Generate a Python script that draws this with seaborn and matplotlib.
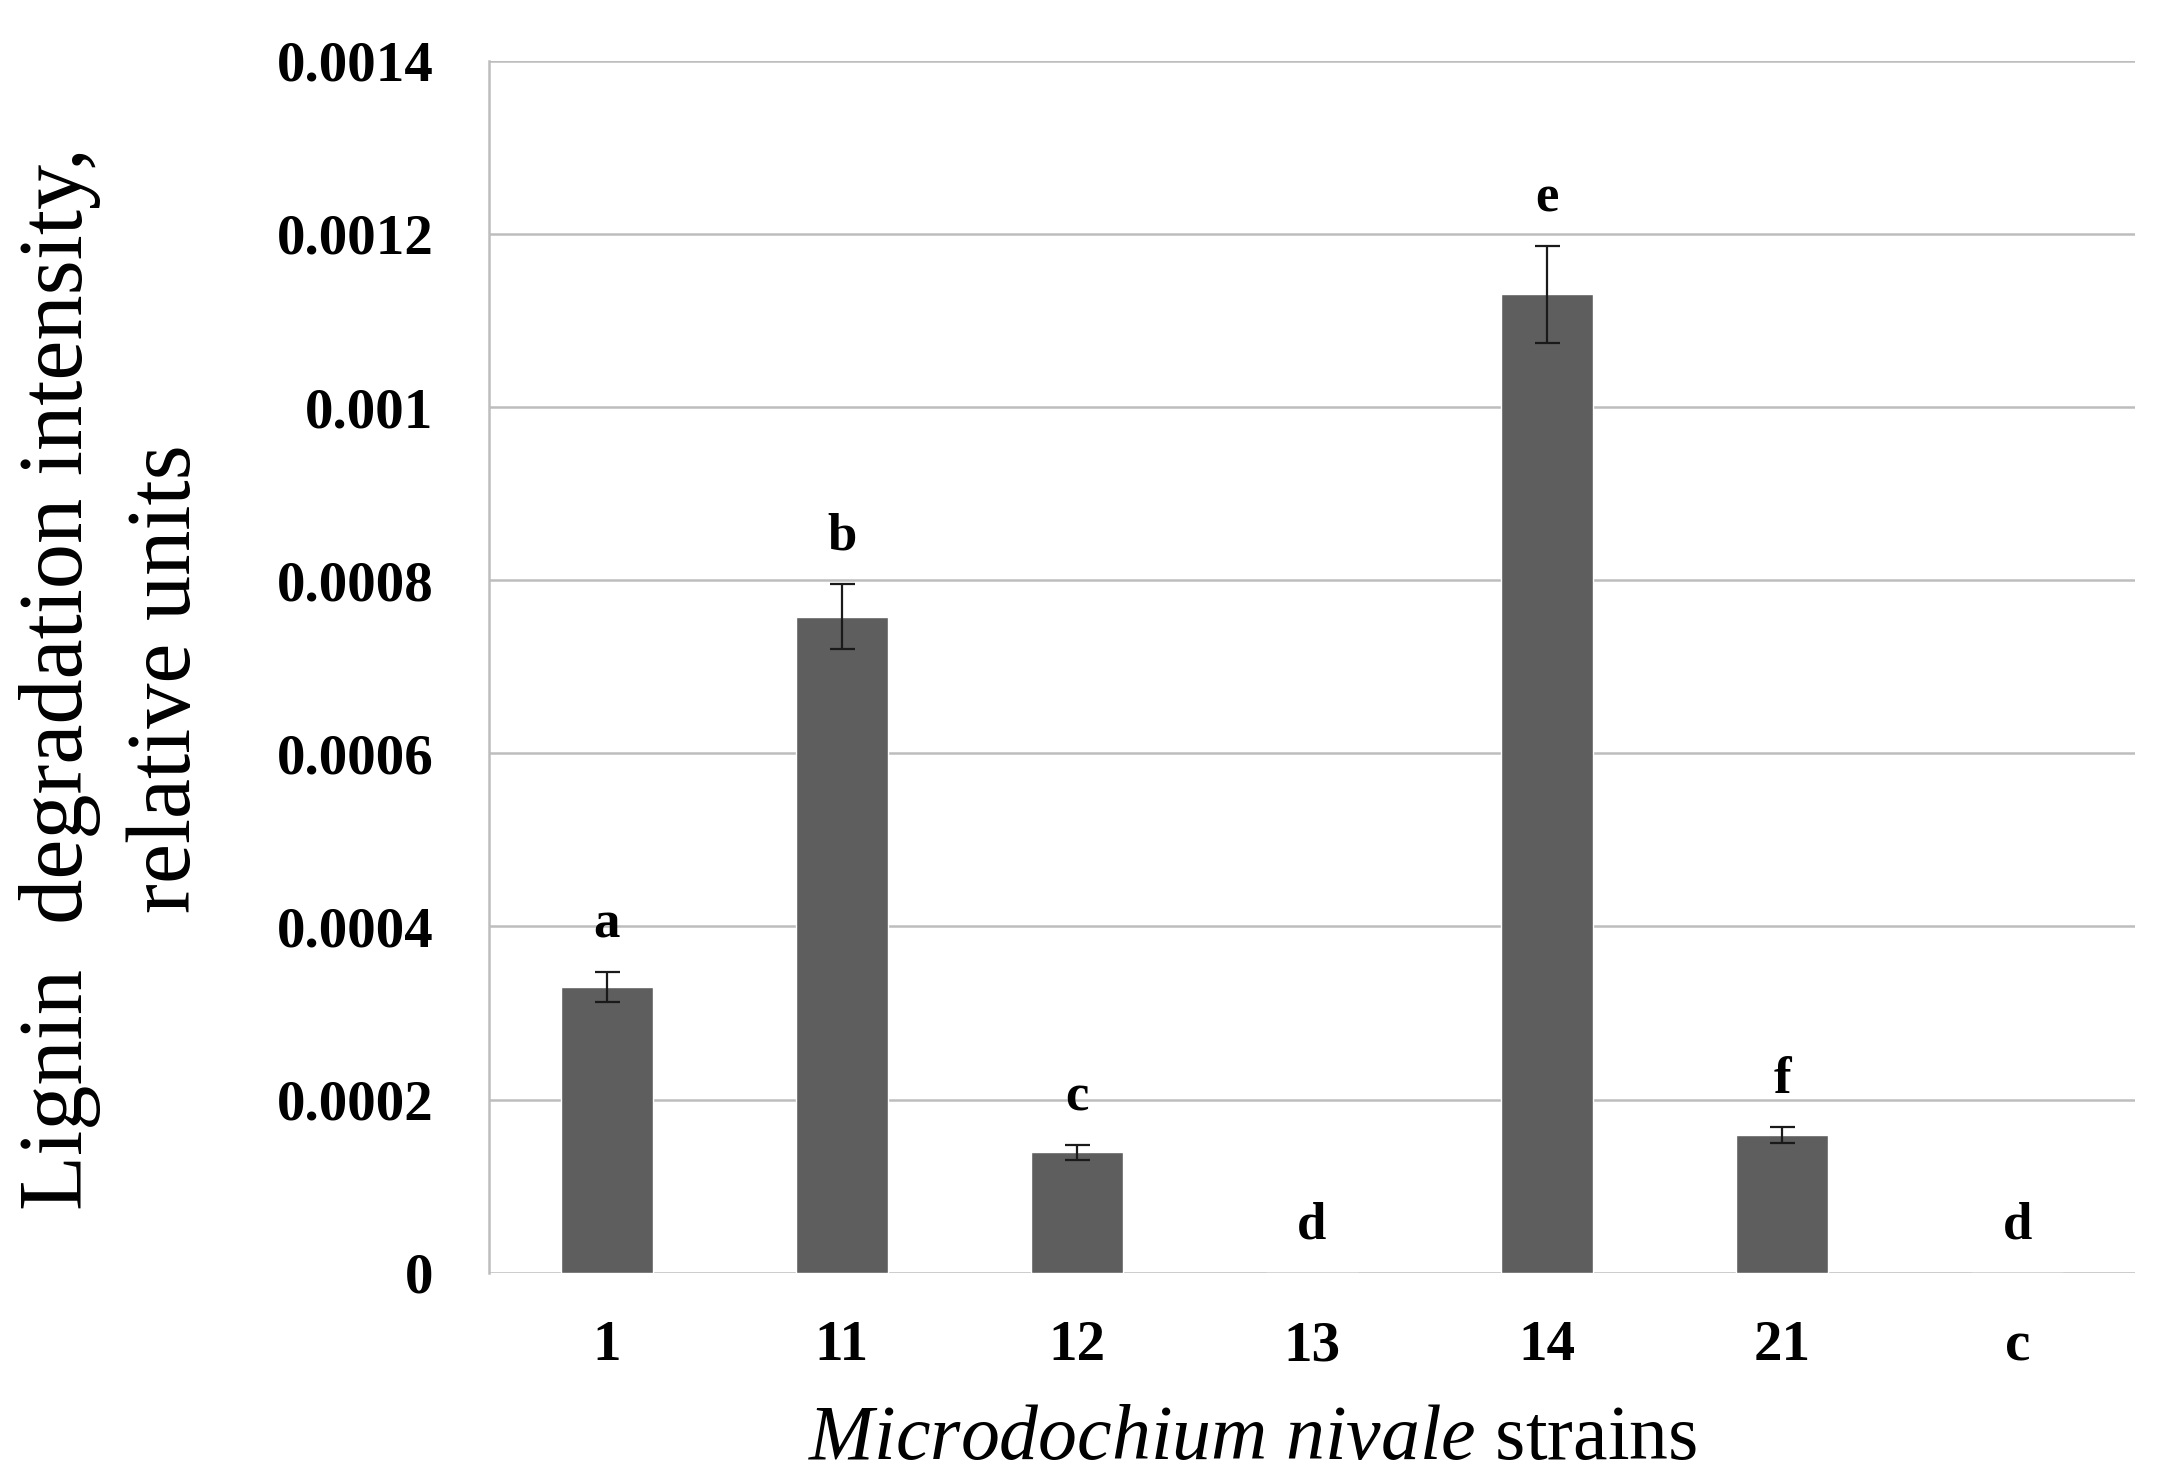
import numpy as np
import pandas as pd
import matplotlib
matplotlib.use("Agg")
import matplotlib.pyplot as plt
import seaborn as sns

strains = ['1', '11', '12', '13', '14', '21', 'c']
intensity = [0.000330, 0.000758, 0.000139, 0.0, 0.001130, 0.000159, 0.0]
err = [0.0000175, 0.000038, 0.0000088, 0.0, 0.000056, 0.0000092, 0.0]
letters = ['a', 'b', 'c', 'd', 'e', 'f', 'd']
yticks = [0, 0.0002, 0.0004, 0.0006, 0.0008, 0.001, 0.0012, 0.0014]
ytick_labels = ['0', '0.0002', '0.0004', '0.0006', '0.0008', '0.001', '0.0012', '0.0014']

df = pd.DataFrame({'strain': strains, 'value': intensity, 'err': err})

sns.set_style("white")
plt.rcParams['font.family'] = ['Liberation Serif', 'DejaVu Serif']
plt.rcParams['mathtext.fontset'] = 'custom'
plt.rcParams['mathtext.it'] = 'Liberation Serif:italic'
plt.rcParams['mathtext.rm'] = 'Liberation Serif'
plt.rcParams['text.color'] = 'black'
plt.rcParams['axes.labelcolor'] = 'black'
plt.rcParams['xtick.color'] = 'black'
plt.rcParams['ytick.color'] = 'black'

fig = plt.figure(figsize=(21.74, 14.8), dpi=100)
ax = fig.add_axes([0.225, 0.140, 0.757, 0.819])

sns.barplot(data=df, x='strain', y='value', color='#5e5e5e', width=0.39,
            saturation=1, errorbar=None, ax=ax)

x = np.arange(len(strains))
has_err = np.array(err) > 0
ax.errorbar(x[has_err], np.array(intensity)[has_err], yerr=np.array(err)[has_err],
            fmt='none', ecolor='#1a1a1a', elinewidth=1.6, capsize=9, capthick=1.6)

for i, lab in enumerate(letters):
    top = intensity[i] + err[i]
    ax.annotate(lab, (i, top), xytext=(0, 34), textcoords='offset points',
                ha='center', va='center', fontsize=38, fontweight='bold')

ax.set_ylim(0, 0.0014)
ax.set_xlim(-0.5, 6.5)
ax.set_yticks(yticks)
ax.set_yticklabels(ytick_labels, fontsize=41, fontweight='bold')
ax.set_xticks(x)
ax.set_xticklabels(strains, fontsize=41, fontweight='bold')
ax.set_xticks(np.arange(-0.5, 7.0, 1.0), minor=True)

ax.yaxis.grid(True, color='#bdbdbd', linewidth=1.8)
ax.set_axisbelow(True)
for s in ['top', 'right', 'bottom']:
    ax.spines[s].set_visible(False)
ax.spines['left'].set_color('#bdbdbd')
ax.spines['left'].set_linewidth(1.8)

ax.tick_params(axis='y', which='major', length=10, width=1.8, color='#bdbdbd', pad=30)
ax.tick_params(axis='x', which='major', length=0, pad=34)
ax.tick_params(axis='x', which='minor', length=10, width=1.8, color='#bdbdbd')

ax.set_xlabel('')
ax.set_ylabel('Lignin  degradation intensity,\nrelative units', fontsize=65,
              va='center', linespacing=1.4)
ax.yaxis.set_label_coords(-0.228, 0.49)

fig.text(0.576, 0.027, r'$\it{Microdochium\ nivale}$ strains', fontsize=56,
         ha='center', va='center')

fig.savefig('out.png', dpi=100)
